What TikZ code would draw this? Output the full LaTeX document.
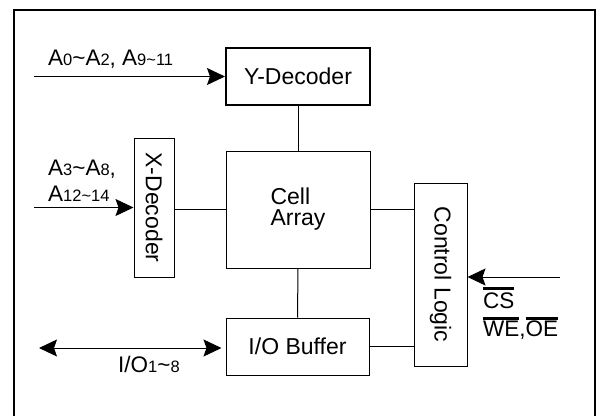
\documentclass[tikz,border=0pt]{standalone}
\usepackage{fontspec}
\usepackage{graphicx}
\setmainfont{Liberation Sans}
\usetikzlibrary{arrows.meta}
\newcommand{\sbs}[1]{{\fontsize{16.5}{16.5}\selectfont #1}}
\newcommand{\tl}{\char`\~}
\newcommand{\ovl}[2]{\setbox0\hbox{#2}\rlap{\raisebox{#1}{\rule{\wd0}{2.6pt}}}\box0}
\begin{document}
\begin{tikzpicture}[x=1pt,y=-1pt,
  box/.style={draw, line width=1pt, inner sep=0pt, font=\fontsize{23}{21}\selectfont},
  conn/.style={line width=1pt},
  tipa/.tip={Stealth[length=18pt,width=17pt,inset=3pt]},
  arr/.style={line width=1pt, -tipa},
  lbl/.style={inner sep=0pt, font=\fontsize{22.5}{22.5}\selectfont}]
\useasboundingbox (0,0) rectangle (600,416);
\fill[white] (0,0) rectangle (600,416);
\draw[line width=1.3pt] (14,416) -- (14,10) -- (595,10) -- (595,416);

\node[box, line width=2pt, minimum width=144pt, minimum height=57pt] (ydec) at (298,76.5) {Y-Decoder};
\node[box, minimum width=40pt, minimum height=139pt] (xdec) at (154,207.5) {\rotatebox{-90}{X-Decoder}};
\node[box, minimum width=144pt, minimum height=117pt, align=left] (cell) at (298,209.5) {Cell\\Array};
\node[box, minimum width=53pt, minimum height=183pt] (ctrl) at (440.5,274.5) {\rotatebox{-90}{Control Logic}};
\node[box, minimum width=143pt, minimum height=57pt] (io) at (297.5,346.5) {I/O Buffer};

\draw[conn] (ydec.south) -- (cell.north);
\draw[conn] (cell.south) -- (io.north);
\draw[conn] (cell.west) -- (cell.west -| xdec.east);
\draw[conn] (cell.east) -- (cell.east -| ctrl.west);
\draw[conn] (io.east) -- (io.east -| ctrl.west);

\coordinate (yin) at (34,76.5);
\coordinate (xin) at (34,207.5);
\coordinate (cin) at (560,277);
\coordinate (ioin) at (39,348);
\draw[arr] (yin) -- (yin -| ydec.west);
\draw[arr] (xin) -- (xin -| xdec.west);
\draw[arr] (cin) -- (cin -| ctrl.east);
\draw[line width=1pt, tipa-tipa, shorten >=4pt] (ioin) -- (ioin -| io.west);

\node[lbl, anchor=base west] (la) at (48,65) {A\sbs{0}\tl A\sbs{2}, A\sbs{9\tl 11}};
\node[lbl, anchor=base west] (lb) at (48,175) {A\sbs{3}\tl A\sbs{8},};
\node[lbl, anchor=base west] (lc) at (48,201) {A\sbs{12\tl 14}};
\node[lbl, anchor=base west] (ld) at (118,372) {I/O\sbs{1}\tl\sbs{8}};
\node[lbl, anchor=base west] (le) at (483,308) {\ovl{18pt}{CS}};
\node[lbl, anchor=base west] (lf) at (483,336) {\ovl{16.5pt}{WE},\ovl{16.5pt}{OE}};
\end{tikzpicture}
\end{document}
